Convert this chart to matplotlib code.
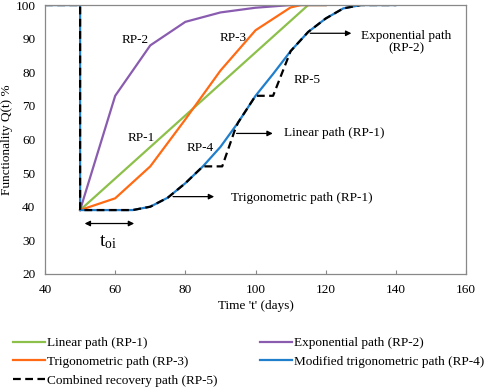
import matplotlib
matplotlib.use("Agg")
import matplotlib.pyplot as plt

plt.rcParams['font.family'] = ['Liberation Serif', 'DejaVu Serif']
plt.rcParams['mathtext.fontset'] = 'custom'
plt.rcParams['mathtext.rm'] = 'Liberation Serif'
plt.rcParams['mathtext.it'] = 'Liberation Serif'

# recovery paths
t_lin = [50, 115, 120]
q_lin = [39, 100, 100]

t_exp = [50, 60, 70, 80, 90, 100, 110, 120]
q_exp = [39, 73, 88, 95, 97.8, 99.2, 100, 100]

t_trig = [50, 60, 70, 80, 90, 100, 110, 113, 120]
q_trig = [39, 42.5, 52, 66, 80.5, 92.5, 99.3, 100, 100]

t_mod = [40, 50, 50, 60, 65, 70, 75, 80, 85, 90, 95, 100, 105, 110, 115, 120, 125, 130, 140]
q_mod = [100, 100, 39, 39, 39, 40, 42.7, 47, 52, 57.8, 65, 73, 79.5, 86.3, 92, 96, 99, 100, 100]

t_comb = [40, 50, 50, 60, 65, 70, 75, 80, 85, 90.5, 94, 95, 100, 105, 110, 115, 120, 125, 130, 140]
q_comb = [100, 100, 39, 39, 39, 40, 42.7, 47, 52, 52, 62.5, 65, 73, 73, 86.3, 92, 96, 99, 100, 100]

fig = plt.figure(figsize=(4.84, 3.88), dpi=100)
ax = fig.add_axes([0.093, 0.294, 0.870, 0.693])

lw = 1.6
l1, = ax.plot(t_lin, q_lin, color='#8cc04a', lw=lw, label='Linear path (RP-1)')
l2, = ax.plot(t_exp, q_exp, color='#8a5cb0', lw=lw, label='Exponential path (RP-2)')
l3, = ax.plot(t_trig, q_trig, color='#ff6a13', lw=lw, label='Trigonometric path (RP-3)')
l4, = ax.plot(t_mod, q_mod, color='#1f7fcc', lw=lw, label='Modified trigonometric path (RP-4)')
l5, = ax.plot(t_comb, q_comb, color='black', lw=lw, ls=(0, (3.5, 2)), label='Combined recovery path (RP-5)')

fs = 9.5
ax.set_xlim(40, 160)
ax.set_ylim(20, 100)
ax.set_xticks(range(40, 161, 20))
ax.set_yticks(range(20, 101, 10))
ax.tick_params(axis='x', direction='in', length=3, color='#888888', labelsize=fs, pad=7)
ax.tick_params(axis='y', length=0, labelsize=fs, pad=7)
for s in ax.spines.values():
    s.set_color('#888888')
    s.set_linewidth(0.9)

ax.set_xlabel("Time 't' (days)", fontsize=fs, labelpad=3)
ax.set_ylabel('Functionality Q(t) %', fontsize=fs, labelpad=2)

ax.text(65.7, 89.6, 'RP-2', fontsize=fs, ha='center', va='center')
ax.text(93.7, 90.2, 'RP-3', fontsize=fs, ha='center', va='center')
ax.text(67.4, 60.4, 'RP-1', fontsize=fs, ha='center', va='center')
ax.text(84.3, 57.4, 'RP-4', fontsize=fs, ha='center', va='center')
ax.text(114.8, 77.7, 'RP-5', fontsize=fs, ha='center', va='center')

arrow = dict(arrowstyle='-|>', color='black', lw=0.9, mutation_scale=8)
ax.annotate('', xy=(128.1, 91.6), xytext=(114.8, 91.6), arrowprops=arrow)
ax.text(142.9, 89.0, 'Exponential path\n(RP-2)', fontsize=fs, ha='center', va='center',
        multialignment='center', linespacing=1.1)
ax.annotate('', xy=(105.7, 61.8), xytext=(93.8, 61.8), arrowprops=arrow)
ax.text(108.1, 61.8, 'Linear path (RP-1)', fontsize=fs, ha='left', va='center')
ax.annotate('', xy=(89.0, 43.0), xytext=(75.7, 43.0), arrowprops=arrow)
ax.text(92.9, 42.6, 'Trigonometric path (RP-1)', fontsize=fs, ha='left', va='center')

ax.annotate('', xy=(66.2, 35), xytext=(50.5, 35),
            arrowprops=dict(arrowstyle='<|-|>', color='black', lw=0.9, mutation_scale=8))
ax.text(57.9, 29.6, r'$\mathregular{t_{oi}}$', fontsize=14, ha='center', va='center')

fig.legend([l1, l3, l5, l2, l4],
           [l.get_label() for l in [l1, l3, l5, l2, l4]],
           ncol=2, loc='upper left', bbox_to_anchor=(0.027, 0.131), frameon=False,
           fontsize=fs, handlelength=2.4, handletextpad=0.2, columnspacing=3.2,
           labelspacing=0.48, borderaxespad=0, borderpad=0)

fig.savefig('out.png', dpi=100)
